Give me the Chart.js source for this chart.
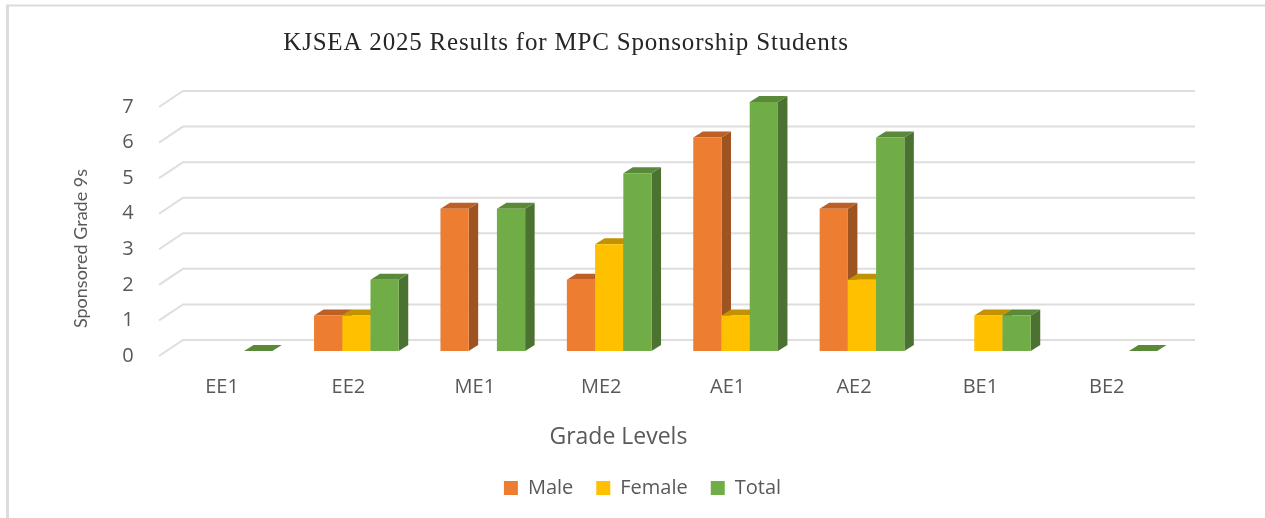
<!DOCTYPE html>
<html>
<head>
<meta charset="utf-8">
<style>html,body{margin:0;padding:0;background:#fff}#w{width:1265px;height:518px;position:relative}</style>
<script src="https://cdn.jsdelivr.net/npm/chart.js@4/dist/chart.umd.min.js"></script>
</head>
<body>
<div id="w"><canvas id="c" width="1265" height="518"></canvas></div>
<script>
const categories = ['EE1','EE2','ME1','ME2','AE1','AE2','BE1','BE2'];
const male   = [null,1,4,2,6,4,null,null];
const female = [null,1,null,3,1,2,1,null];
const total  = [0,2,4,5,7,6,1,0];
const colors = ['#ED7D31','#FFC000','#70AD47'];
const topColors = ['#BC6026','#C29200','#5A8A39'];
const sideColors = ['#9E5420','#A67D00','#4B7230'];
const DX = 9.5, DY = 6;

const frame3d = {
  id:'frame3d',
  afterLayout(chart){
    const c=chart.ctx;
    const tb=chart.titleBlock;
    if(tb){
      tb.left=0;tb.right=1132;
      if(!tb._spaced){
        tb._spaced=true;
        const d=tb.draw;
        tb.draw=function(a){c.letterSpacing='0.8px';d.call(tb,a);c.letterSpacing='0px';};
      }
    }
    if(chart.legend){chart.legend.left=20;chart.legend.right=1265;}
    const sx=chart.scales.x, sy=chart.scales.y;
    if(!sx._moved){
      sx._moved=true;
      const dx=sx.drawTitle;
      sx.drawTitle=function(){const L=sx.left,R=sx.right;sx.left=L-54;sx.right=R-54;dx.call(sx);sx.left=L;sx.right=R;};
      const dy=sy.drawTitle;
      sy.drawTitle=function(){const T=sy.top,B=sy.bottom;sy.top=T+22;sy.bottom=B+22;dy.call(sy);sy.top=T;sy.bottom=B;};
    }
  },
  beforeDraw(chart){
    const c=chart.ctx;
    c.save();
    c.fillStyle='#fff';c.fillRect(0,0,chart.width,chart.height);
    c.strokeStyle='#dcdcdc';c.lineWidth=2;
    c.beginPath();c.moveTo(6,5.5);c.lineTo(chart.width,5.5);c.stroke();
    c.lineWidth=3;
    c.beginPath();c.moveTo(7.5,5);c.lineTo(7.5,chart.height);c.stroke();
    c.restore();
  },
  beforeDatasetsDraw(chart){
    const c=chart.ctx, y=chart.scales.y;
    c.save();
    c.strokeStyle='#dedede';c.lineWidth=2;
    y.ticks.forEach(t=>{
      const p=y.getPixelForValue(t.value);
      c.beginPath();
      c.moveTo(159,p+5);c.lineTo(183,p-11);c.lineTo(1195,p-11);
      c.stroke();
    });
    c.restore();
  },
  beforeDatasetDraw(){return false;},
  afterDatasetsDraw(chart){
    const c=chart.ctx;
    chart.data.datasets.forEach((ds,i)=>{
      const meta=chart.getDatasetMeta(i);
      meta.data.forEach((el,k)=>{
        if(ds.data[k]===null||ds.data[k]===undefined)return;
        const p=el.getProps(['x','y','base','width'],true);
        const l=p.x-p.width/2,r=p.x+p.width/2,t=p.y,b=p.base;
        c.save();
        if(b-t>0.5){
          c.fillStyle=sideColors[i];
          c.beginPath();c.moveTo(r,t);c.lineTo(r+DX,t-DY);c.lineTo(r+DX,b-DY);c.lineTo(r,b);c.closePath();c.fill();
        }
        c.fillStyle=topColors[i];
        c.beginPath();c.moveTo(l,t);c.lineTo(l+DX,t-DY);c.lineTo(r+DX,t-DY);c.lineTo(r,t);c.closePath();c.fill();
        c.restore();
        el.draw(c);
      });
    });
  }
};

new Chart(document.getElementById('c'),{
  type:'bar',
  data:{labels:categories,datasets:[
    {label:'Male',data:male,backgroundColor:colors[0]},
    {label:'Female',data:female,backgroundColor:colors[1]},
    {label:'Total',data:total,backgroundColor:colors[2]}
  ]},
  plugins:[frame3d],
  options:{
    responsive:false,animation:false,devicePixelRatio:1,
    layout:{padding:{top:0,left:0,right:87,bottom:10}},
    datasets:{bar:{categoryPercentage:0.67,barPercentage:1}},
    plugins:{
      tooltip:{enabled:false},
      title:{display:true,text:'KJSEA 2025 Results for MPC Sponsorship Students',
        color:'#262626',font:{family:'"Liberation Serif"',size:25,weight:'normal',lineHeight:1.2},
        padding:{top:28,bottom:44}},
      legend:{display:true,position:'bottom',
        labels:{boxWidth:14,boxHeight:14,padding:23,color:'#595959',font:{family:'"Open Sans"',size:20}}}
    },
    scales:{
      x:{
        grid:{display:false},border:{display:false},
        afterFit(s){s.height=104;},
        ticks:{padding:16,color:'#595959',labelOffset:-8,maxRotation:0,font:{family:'"Open Sans"',size:20}},
        title:{display:true,text:'Grade Levels',color:'#595959',font:{family:'"Open Sans"',size:23},padding:{top:0,bottom:4}}
      },
      y:{
        min:0,max:7,
        grid:{display:false},border:{display:false},
        afterFit(s){s.width=166.8;},
        ticks:{stepSize:1,padding:25,color:'#595959',labelOffset:5,font:{family:'"Open Sans"',size:20}},
        title:{display:true,text:'Sponsored Grade 9s',color:'#595959',font:{family:'Lato',size:18},padding:{top:70,bottom:0}}
      }
    }
  }
});
</script>
</body>
</html>
